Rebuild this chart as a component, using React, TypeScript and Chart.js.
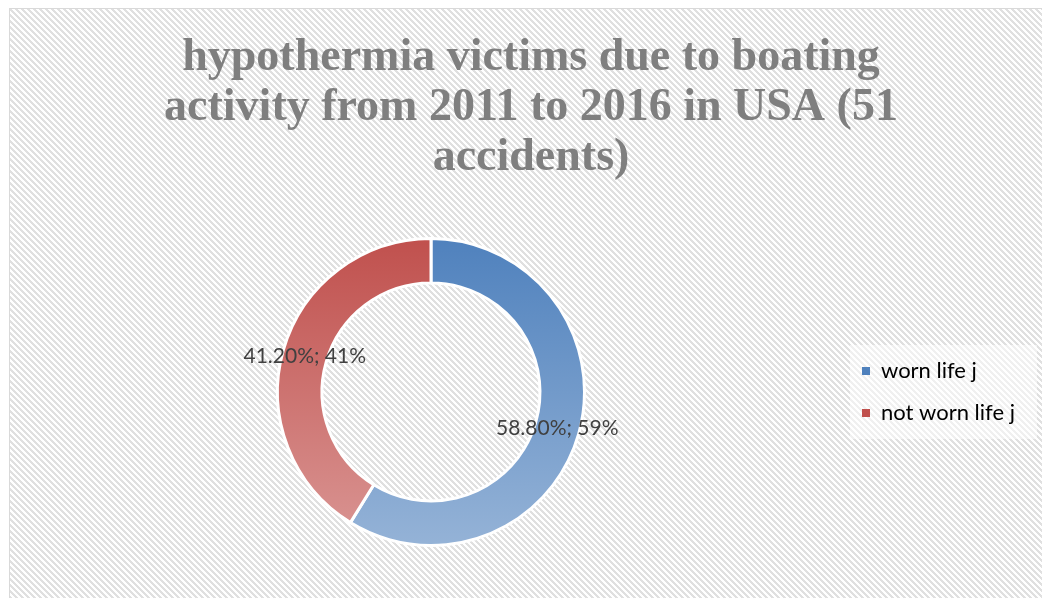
import React, { useEffect, useRef } from "react";
import { Chart, registerables } from "chart.js";

Chart.register(...registerables);

const categories: string[] = ["worn life j", "not worn life j"];
const percentValues: number[] = [58.8, 41.2];
const titleLines: string[] = [
  "hypothermia victims due to boating",
  "activity from 2011 to 2016 in USA (51",
  "accidents)",
];

const gradientStops: [string, string][] = [
  ["#4F81BD", "#95B3D7"],
  ["#C0504D", "#DA9694"],
];

function makeStripePattern(ctx: CanvasRenderingContext2D): CanvasPattern | string {
  const P = 6;
  const c = document.createElement("canvas");
  c.width = P;
  c.height = P;
  const g = c.getContext("2d");
  if (!g) return "#ffffff";
  g.fillStyle = "#ffffff";
  g.fillRect(0, 0, P, P);
  g.fillStyle = "#e0e0e0";
  for (let y = 0; y < P; y++) {
    for (let x = 0; x < P; x++) {
      const d = (((x - y) % P) + P) % P;
      if (d < 3) g.fillRect(x, y, 1, 1);
    }
  }
  const pat = ctx.createPattern(c, "repeat");
  return pat || "#ffffff";
}

const backgroundPlugin = {
  id: "stripedBackground",
  beforeDraw(chart: any) {
    const { ctx, width, height } = chart;
    ctx.save();
    ctx.fillStyle = "#ffffff";
    ctx.fillRect(0, 0, width, height);
    ctx.fillStyle = makeStripePattern(ctx);
    ctx.fillRect(9, 8, width - 9, height - 8);
    ctx.strokeStyle = "#d9d9d9";
    ctx.lineWidth = 1;
    ctx.beginPath();
    ctx.moveTo(9.5, height);
    ctx.lineTo(9.5, 8.5);
    ctx.lineTo(width, 8.5);
    ctx.stroke();
    const lg = chart.legend;
    if (lg && lg.legendHitBoxes && lg.legendHitBoxes.length) {
      const hb = lg.legendHitBoxes;
      const top = hb[0].top - 15;
      const bottom = hb[hb.length - 1].top + hb[hb.length - 1].height + 15;
      ctx.fillStyle = "rgba(255,255,255,0.5)";
      ctx.fillRect(lg.left + 8, top, width - 5 - (lg.left + 8), bottom - top);
    }
    ctx.restore();
  },
};

const legendWidthPlugin = {
  id: "legendWidth",
  beforeUpdate(chart: any) {
    const lg = chart.legend;
    if (lg && !lg.__patched) {
      const orig = lg.fit.bind(lg);
      lg.fit = function () {
        orig();
        this.width = 200;
      };
      lg.__patched = true;
    }
  },
};

const labelPlugin = {
  id: "sliceLabels",
  afterDatasetsDraw(chart: any) {
    const { ctx } = chart;
    const meta = chart.getDatasetMeta(0);
    ctx.save();
    ctx.font = "21px Lato";
    ctx.fillStyle = "#404040";
    ctx.textAlign = "center";
    ctx.textBaseline = "middle";
    meta.data.forEach((arc: any, i: number) => {
      const p = arc.tooltipPosition();
      const v = percentValues[i];
      ctx.fillText(`${v.toFixed(2)}%; ${Math.round(v)}%`, p.x, p.y);
    });
    ctx.restore();
  },
};

export default function App() {
  const ref = useRef<HTMLCanvasElement | null>(null);
  useEffect(() => {
    if (!ref.current) return;
    const chart = new Chart(ref.current, {
      type: "doughnut",
      data: {
        labels: categories,
        datasets: [
          {
            data: percentValues,
            backgroundColor: (c: any) => {
              const ch = c.chart;
              const ca = ch.chartArea;
              const stops = gradientStops[c.dataIndex % gradientStops.length];
              if (!ca) return stops[0];
              const g = ch.ctx.createLinearGradient(0, ca.top, 0, ca.bottom);
              g.addColorStop(0, stops[0]);
              g.addColorStop(1, stops[1]);
              return g;
            },
            borderColor: "#ffffff",
            borderWidth: 3,
          },
        ],
      },
      options: {
        responsive: false,
        animation: false,
        cutout: "71%",
        layout: { padding: { left: 20, right: 0, top: 0, bottom: 51 } },
        plugins: {
          title: {
            display: true,
            text: titleLines,
            color: "#7f7f7f",
            font: { family: "Liberation Serif", weight: "bold", size: 46, lineHeight: 50 / 46 },
            padding: { top: 33, bottom: 54 },
          },
          legend: {
            position: "right",
            fullSize: false,
            labels: {
              boxWidth: 8,
              boxHeight: 8,
              padding: 20,
              color: "#595959",
              font: { family: "Lato", size: 22 },
              generateLabels: () => {
                return categories.map((t, i) => ({
                  text: t,
                  fillStyle: gradientStops[i][0],
                  strokeStyle: gradientStops[i][0],
                  lineWidth: 0,
                  hidden: false,
                  index: i,
                  datasetIndex: 0,
                }));
              },
            },
          },
          tooltip: { enabled: false },
        },
      },
      plugins: [backgroundPlugin, legendWidthPlugin, labelPlugin],
    });
    return () => chart.destroy();
  }, []);
  return (
    <div style={{ position: "absolute", left: 0, top: 0 }}>
      <canvas ref={ref} width={1042} height={598} style={{ display: "block" }} />
    </div>
  );
}
